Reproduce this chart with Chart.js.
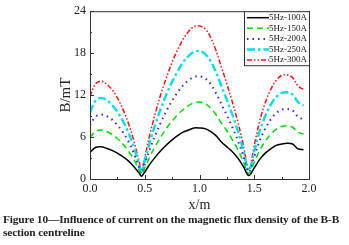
<!DOCTYPE html>
<html>
<head>
<meta charset="utf-8">
<script src="https://cdn.jsdelivr.net/npm/chart.js@4"></script>
<style>
  body { margin: 0; background: #fff; width: 349px; height: 245px; overflow: hidden; position: relative; }
  #wrap { position: absolute; left: 0; top: 0; width: 349px; height: 214px; }
  #caption { position: absolute; left: 3px; top: 213px; width: 346px; font-family: 'Liberation Serif', serif; font-weight: bold; font-size: 11.4px; line-height: 13px; color: #222; letter-spacing: -0.15px; white-space: nowrap; }
</style>
</head>
<body>
<div id="wrap"><canvas id="grafico"></canvas></div>
<div id="caption">Figure 10—Influence of current on the magnetic flux density of the B-B<br>section centreline</div>
<script>
const posicoes = [0, 0.05, 0.1, 0.15, 0.2, 0.25, 0.3, 0.35, 0.4, 0.45, 0.47, 0.5, 0.55, 0.6, 0.65, 0.7, 0.75, 0.8, 0.85, 0.9, 0.95, 1.0,
  1.05, 1.1, 1.15, 1.2, 1.25, 1.3, 1.35, 1.4, 1.45, 1.5, 1.55, 1.6, 1.65, 1.7, 1.75, 1.8, 1.85, 1.9, 1.95];

const serie100A = [3.8, 4.5, 4.6, 4.4, 4.1, 3.7, 3.2, 2.6, 1.8, 0.8, 0.4, 1.0, 2.2, 3.2, 4.1, 4.9, 5.6, 6.2, 6.7, 7.0, 7.3, 7.3,
  7.2, 6.8, 6.2, 5.3, 4.6, 3.9, 3.0, 1.8, 0.5, 1.6, 2.8, 3.7, 4.3, 4.8, 5.0, 5.1, 5.0, 4.3, 4.2];
const serie150A = [5.9, 6.8, 7.0, 6.8, 6.4, 5.8, 5.0, 4.0, 2.8, 1.2, 0.6, 1.6, 3.3, 4.8, 6.1, 7.3, 8.3, 9.2, 9.9, 10.5, 10.9, 11.0,
  10.8, 10.2, 9.2, 8.0, 6.9, 5.6, 4.2, 2.5, 0.8, 2.4, 4.1, 5.4, 6.4, 7.1, 7.5, 7.6, 7.4, 6.7, 6.4];
const serie200A = [7.7, 8.9, 9.2, 9.0, 8.5, 7.7, 6.7, 5.4, 3.7, 1.6, 0.8, 2.1, 4.4, 6.4, 8.2, 9.8, 11.2, 12.4, 13.4, 14.1, 14.6, 14.7,
  14.4, 13.6, 12.3, 10.7, 9.1, 7.4, 5.5, 3.3, 1.0, 3.2, 5.5, 7.2, 8.5, 9.4, 9.9, 10.0, 9.8, 8.9, 8.5];
const serie250A = [9.5, 11.2, 11.6, 11.3, 10.6, 9.6, 8.3, 6.7, 4.6, 2.0, 1.0, 2.6, 5.5, 8.0, 10.2, 12.2, 13.9, 15.4, 16.7, 17.6, 18.2, 18.3,
  17.9, 16.9, 15.3, 13.3, 11.3, 9.2, 6.9, 4.1, 1.2, 4.0, 6.9, 9.0, 10.6, 11.7, 12.3, 12.4, 12.1, 11.0, 10.5];
const serie300A = [11.8, 13.6, 14.0, 13.6, 12.8, 11.6, 10.0, 8.0, 5.5, 2.4, 1.2, 3.1, 6.6, 9.6, 12.3, 14.6, 16.7, 18.5, 20.0, 21.1, 21.8, 21.9,
  21.5, 20.3, 18.4, 16.0, 13.6, 11.0, 8.2, 4.9, 1.4, 4.8, 8.3, 10.9, 12.8, 14.1, 14.8, 14.9, 14.5, 13.3, 12.8];

const nomesSeries = ['5Hz-100A', '5Hz-150A', '5Hz-200A', '5Hz-250A', '5Hz-300A'];
const ticksX = [0.0, 0.5, 1.0, 1.5, 2.0];
const ticksY = [0, 6, 12, 18, 24];

const pontos = (valores) => valores.map((v, i) => ({ x: posicoes[i], y: v }));

const estilos = [
  { cor: '#000000', largura: 1.5, traco: [] },
  { cor: '#00dd00', largura: 1.5, traco: [6, 4] },
  { cor: '#2a2aff', largura: 2, traco: [1.5, 4] },
  { cor: '#00e0e8', largura: 2.4, traco: [8, 3, 2.5, 3] },
  { cor: '#ff1010', largura: 1.5, traco: [5, 2, 1.5, 2, 1.5, 2] }
];
const valores = [serie100A, serie150A, serie200A, serie250A, serie300A];

const fonteEixo = { family: "'Liberation Serif', serif", size: 12 };

// moldura, ticks para dentro e legenda desenhada dentro da area
const moldura = {
    id: 'moldura',
    afterDraw(chart) {
        const { ctx, chartArea: a, scales } = chart;
        ctx.save();
        ctx.strokeStyle = '#333';
        ctx.lineWidth = 1;
        ctx.setLineDash([]);
        ctx.strokeRect(a.left + 0.5, a.top + 0.5, a.right - a.left, a.bottom - a.top);

        ctx.beginPath();
        for (let v = 0; v <= 2.0001; v += 0.25) {
            const px = Math.round(scales.x.getPixelForValue(v)) + 0.5;
            const t = (Math.abs(v * 2 - Math.round(v * 2)) < 1e-6) ? 4 : 2;
            ctx.moveTo(px, a.bottom); ctx.lineTo(px, a.bottom - t);
        }
        for (let v = 0; v <= 24; v += 3) {
            const py = Math.round(scales.y.getPixelForValue(v)) + 0.5;
            const t = (v % 6 === 0) ? 4 : 2;
            ctx.moveTo(a.left, py); ctx.lineTo(a.left + t, py);
        }
        ctx.stroke();

        // legenda
        const lx = a.right - 65, ly = a.top, lw = 65, lh = 54;
        ctx.fillStyle = '#fff';
        ctx.fillRect(lx, ly, lw, lh);
        ctx.strokeStyle = '#333';
        ctx.strokeRect(lx + 0.5, ly + 0.5, lw, lh);
        ctx.font = "9px 'Liberation Serif', serif";
        ctx.textBaseline = 'middle';
        chart.data.datasets.forEach((ds, i) => {
            const y = ly + 6.5 + i * 10.6;
            ctx.strokeStyle = ds.borderColor;
            ctx.lineWidth = ds.borderWidth;
            ctx.setLineDash(ds.borderDash);
            ctx.beginPath();
            ctx.moveTo(lx + 3, y); ctx.lineTo(lx + 25, y);
            ctx.stroke();
            ctx.setLineDash([]);
            ctx.fillStyle = '#222';
            ctx.fillText(ds.label, lx + 25, y);
        });
        ctx.restore();
    }
};

new Chart(document.getElementById('grafico'), {
    type: 'line',
    data: {
        datasets: valores.map((v, i) => ({
            label: nomesSeries[i],
            data: pontos(v),
            borderColor: estilos[i].cor,
            borderWidth: estilos[i].largura,
            borderDash: estilos[i].traco,
            pointRadius: 0,
            tension: 0.35,
            fill: false
        }))
    },
    options: {
        responsive: true,
        maintainAspectRatio: false,
        animation: false,
        layout: { padding: { top: 10, right: 40, left: 57, bottom: 0 } },
        plugins: {
            legend: { display: false },
            tooltip: { enabled: false }
        },
        scales: {
            x: {
                type: 'linear',
                min: 0,
                max: 2.0,
                afterBuildTicks: (s) => { s.ticks = ticksX.map(v => ({ value: v })); },
                afterFit: (s) => { s.height = 35; },
                ticks: {
                    color: '#222',
                    font: fonteEixo,
                    padding: 3,
                    maxRotation: 0,
                    callback: (v) => Number(v).toFixed(1)
                },
                grid: { display: false, drawTicks: false },
                border: { display: false },
                title: { display: true, text: 'x/m', color: '#222', font: { family: "'Liberation Serif', serif", size: 14 }, padding: { top: 0, bottom: 0 } }
            },
            y: {
                min: 0,
                max: 24,
                afterBuildTicks: (s) => { s.ticks = ticksY.map(v => ({ value: v })); },
                afterFit: (s) => { s.width = 33; },
                ticks: {
                    color: '#222',
                    font: fonteEixo,
                    padding: 4
                },
                grid: { display: false, drawTicks: false },
                border: { display: false },
                title: { display: true, text: 'B/mT', color: '#222', font: { family: "'Liberation Serif', serif", size: 15 }, padding: { top: 0, bottom: 0 } }
            }
        }
    },
    plugins: [moldura]
});
</script>
</body>
</html>
